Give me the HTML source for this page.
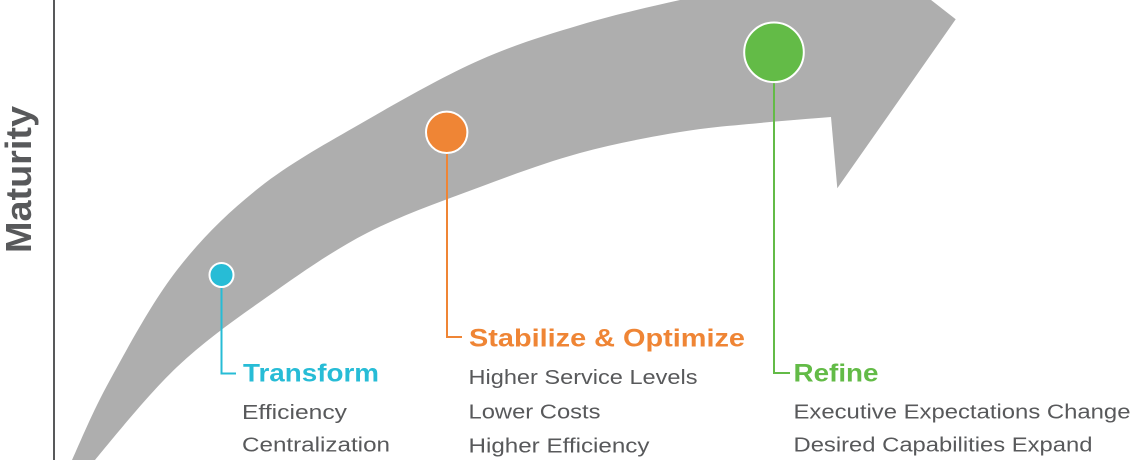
<!DOCTYPE html>
<html>
<head>
<meta charset="utf-8">
<style>
  html, body { margin: 0; padding: 0; background: #ffffff; overflow: hidden; }
  body { width: 1132px; height: 460px; overflow: hidden; }
  svg { display: block; overflow: hidden; }
  .h { font-family: "Liberation Sans", sans-serif; font-weight: bold; font-size: 25px; }
  .b { font-family: "Liberation Sans", sans-serif; font-size: 20px; fill: #58595b; }
</style>
</head>
<body>
<svg width="1132" height="460" viewBox="0 0 1132 460" xmlns="http://www.w3.org/2000/svg">
  <defs>
    <clipPath id="frame"><rect x="0" y="0" width="1132" height="460"/></clipPath>
  </defs>
  <rect x="0" y="0" width="1132" height="460" fill="#ffffff"/>

  <!-- axis -->
  <rect x="53" y="0" width="2" height="460" fill="#58595b"/>
  <text transform="translate(31,253) rotate(-90)" font-family="Liberation Sans, sans-serif" font-weight="bold" font-size="36" fill="#58595b" textLength="147" lengthAdjust="spacingAndGlyphs">Maturity</text>

  <!-- arrow -->
  <g clip-path="url(#frame)">
  <path fill="#aeaeae" d="M 59.5,490 L 72,460
    C 80.4,441.7 92.5,411.7 110,380
    C 127.5,348.3 152,302.2 177,270
    C 202,237.8 228.3,212 260,187
    C 291.7,162 330.3,141.2 367,120
    C 403.7,98.8 444.5,75.8 480,60
    C 515.5,44.2 546.7,35 580,25
    C 613.3,15 643.3,8.3 680,0
    C 716.7,-8.3 763.3,-18.3 800,-25
    L 880,-40 L 955.7,19.3 L 837.3,188.3 L 831,117
    C 811,118.7 785.2,120.5 760,123
    C 734.8,125.5 710,127 680,132
    C 650,137 613.3,143.8 580,153
    C 546.7,162.2 515.5,173.7 480,187
    C 444.5,200.3 402.5,214.7 367,233
    C 331.5,251.3 298.7,274.7 267,297
    C 235.3,319.3 205.7,339.8 177,367
    C 148.3,394.2 112,439.5 95,460
    L 75,490 Z"/>
  </g>

  <!-- connectors -->
  <polyline points="221.5,285 221.5,373.5 236,373.5" fill="none" stroke="#27bcd6" stroke-width="2"/>
  <polyline points="447,150 447,337 462,337" fill="none" stroke="#ef8535" stroke-width="2"/>
  <polyline points="774,80 774,373 790,373" fill="none" stroke="#63bb47" stroke-width="2"/>

  <!-- circles -->
  <circle cx="221.5" cy="275" r="12" fill="#27bcd6" stroke="#ffffff" stroke-width="2"/>
  <circle cx="446.7" cy="132.3" r="20.7" fill="#ef8535" stroke="#ffffff" stroke-width="2"/>
  <circle cx="774" cy="52.3" r="29.8" fill="#63bb47" stroke="#ffffff" stroke-width="2"/>

  <!-- Transform -->
  <text class="h" x="243" y="381.7" fill="#27bcd6" textLength="136" lengthAdjust="spacingAndGlyphs">Transform</text>
  <text class="b" x="242" y="419" textLength="105" lengthAdjust="spacingAndGlyphs">Efficiency</text>
  <text class="b" x="242" y="451.5" textLength="148" lengthAdjust="spacingAndGlyphs">Centralization</text>

  <!-- Stabilize & Optimize -->
  <text class="h" x="469" y="346.7" fill="#ef8535" textLength="276" lengthAdjust="spacingAndGlyphs">Stabilize &amp; Optimize</text>
  <text class="b" x="468.5" y="384" textLength="229" lengthAdjust="spacingAndGlyphs">Higher Service Levels</text>
  <text class="b" x="468.5" y="418.3" textLength="132" lengthAdjust="spacingAndGlyphs">Lower Costs</text>
  <text class="b" x="468.5" y="452.3" textLength="181" lengthAdjust="spacingAndGlyphs">Higher Efficiency</text>

  <!-- Refine -->
  <text class="h" x="793.5" y="381.7" fill="#63bb47" textLength="85" lengthAdjust="spacingAndGlyphs">Refine</text>
  <text class="b" x="793.5" y="418.3" textLength="337" lengthAdjust="spacingAndGlyphs">Executive Expectations Change</text>
  <text class="b" x="793.5" y="451.7" textLength="299" lengthAdjust="spacingAndGlyphs">Desired Capabilities Expand</text>
</svg>
</body>
</html>
